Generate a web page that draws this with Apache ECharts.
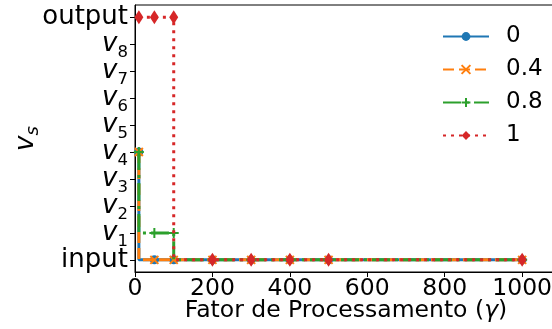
<!DOCTYPE html>
<html>
<head>
<meta charset="utf-8">
<script src="https://cdn.jsdelivr.net/npm/echarts@6/dist/echarts.min.js"></script>
<style>
  html, body { margin: 0; padding: 0; background: #fff; }
  #chart { width: 552px; height: 329px; }
</style>
</head>
<body>
<div id="chart"></div>
<script>
// Processing factor (gamma) on the x axis
const gammaValues = [10, 50, 100, 200, 300, 400, 500, 1000];
// Stage index reached for each series (0 = input, 1..8 = v1..v8, 9 = output)
const series0 = [4, 0, 0, 0, 0, 0, 0, 0];
const series04 = [4, 0, 0, 0, 0, 0, 0, 0];
const series08 = [4, 1, 1, 0, 0, 0, 0, 0];
const series1 = [9, 9, 9, 0, 0, 0, 0, 0];
const seriesNames = ['0', '0.4', '0.8', '1'];
const stageLabels = ['input', 'v1', 'v2', 'v3', 'v4', 'v5', 'v6', 'v7', 'v8', 'output'];
const stageTicks = [0, 1, 2, 3, 4, 5, 6, 7, 8, 9];
const xTicks = [0, 200, 400, 600, 800, 1000];

const FONT = 'DejaVu Sans';
const colors = ['#1f77b4', '#ff7f0e', '#2ca02c', '#d62728'];

const toPairs = ys => gammaValues.map((x, i) => [x, ys[i]]);

const crossPath = 'path://M0,0L10,10M10,0L0,10';
const plusPath = 'path://M5,0L5,10M0,5L10,5';

function stageLabel(value) {
  const idx = Math.round(value);
  const name = stageLabels[idx];
  if (idx === 0 || idx === 9) return name;
  return '{v|v}{s|' + name.slice(1) + '}';
}

// Stage labels are split over two coincident axes (even / odd stages)
// so that neighbouring tall labels never collide and get dropped.
const evenStages = stageTicks.filter(v => v % 2 === 0);
const oddStages = stageTicks.filter(v => v % 2 === 1);

const stageRich = {
  v: { fontFamily: FONT, fontStyle: 'italic', fontSize: 26, color: '#000', lineHeight: 34, verticalAlign: 'middle' },
  s: { fontFamily: FONT, fontSize: 16.5, color: '#000', lineHeight: 34, verticalAlign: 'bottom' }
};

function stageAxis(labelValues, withDecor) {
  return {
    type: 'value',
    position: 'left',
    offset: 0,
    min: -0.45, max: 9.45,
    axisLine: { show: withDecor, onZero: false, lineStyle: { color: '#000', width: 1 } },
    axisTick: { show: withDecor, inside: false, length: 5, lineStyle: { color: '#000', width: 1 },
      customValues: stageTicks },
    axisLabel: {
      fontFamily: FONT, fontSize: 26, color: '#000', margin: 7,
      showMinLabel: true, showMaxLabel: true, hideOverlap: false,
      customValues: labelValues,
      formatter: stageLabel,
      rich: stageRich
    },
    splitLine: { show: false }
  };
}

const chart = echarts.init(document.getElementById('chart'), null, { renderer: 'canvas' });

const yMain = stageAxis(evenStages, true);
yMain.name = '{v|v}{s|s}';
yMain.nameLocation = 'middle';
yMain.nameGap = 93;
yMain.nameRotate = 90;
yMain.nameMoveOverlap = false;
yMain.nameTextStyle = {
  color: '#000',
  rich: {
    v: { fontFamily: FONT, fontStyle: 'italic', fontSize: 26, color: '#000', lineHeight: 32, verticalAlign: 'middle' },
    s: { fontFamily: FONT, fontStyle: 'italic', fontSize: 18, color: '#000', lineHeight: 32, verticalAlign: 'bottom' }
  }
};
const yOdd = stageAxis(oddStages, false);

const lineW = 3;
const option = {
  animation: false,
  backgroundColor: '#fff',
  textStyle: { fontFamily: FONT },
  grid: {
    left: 135, top: 5, right: -5, bottom: 57,
    outerBoundsMode: 'none',
    containLabel: false,
    show: true, borderColor: '#000', borderWidth: 1, backgroundColor: 'transparent'
  },
  legend: {
    orient: 'vertical',
    left: 437, top: 20,
    itemWidth: 46, itemHeight: 11, itemGap: 10,
    textStyle: { fontFamily: FONT, fontSize: 23, color: '#000', padding: [0, 0, 0, 12] },
    data: seriesNames
  },
  xAxis: {
    type: 'value',
    min: 0, max: 1090, interval: 200,
    name: 'Fator de Processamento ({g|γ})',
    nameLocation: 'middle',
    nameGap: 27,
    nameMoveOverlap: false,
    nameTextStyle: {
      fontFamily: FONT, fontSize: 23.5, color: '#000',
      rich: { g: { fontFamily: FONT, fontStyle: 'italic', fontSize: 23.5, color: '#000' } }
    },
    axisLine: { show: true, onZero: false, lineStyle: { color: '#000', width: 1 } },
    axisTick: { show: true, inside: false, length: 5, lineStyle: { color: '#000', width: 1 },
      customValues: xTicks },
    axisLabel: {
      fontFamily: FONT, fontSize: 23.5, color: '#000', margin: 5, customValues: xTicks,
      hideOverlap: false,
      formatter: v => String(v)
    },
    splitLine: { show: false }
  },
  yAxis: [yMain, yOdd],
  series: [
    {
      name: seriesNames[0], type: 'line', step: 'start', data: toPairs(series0),
      symbol: 'circle', symbolSize: 9, showAllSymbol: true,
      lineStyle: { color: colors[0], width: lineW, type: 'solid' },
      itemStyle: { color: colors[0] }, z: 2
    },
    {
      name: seriesNames[1], type: 'line', step: 'start', data: toPairs(series04),
      symbol: crossPath, symbolSize: 8, showAllSymbol: true,
      lineStyle: { color: colors[1], width: lineW, type: [11, 5] },
      itemStyle: { color: colors[1], borderColor: colors[1], borderWidth: 2 }, z: 3
    },
    {
      name: seriesNames[2], type: 'line', step: 'start', data: toPairs(series08),
      symbol: plusPath, symbolSize: 10, showAllSymbol: true,
      lineStyle: { color: colors[2], width: lineW, type: [18, 5, 3, 5] },
      itemStyle: { color: colors[2], borderColor: colors[2], borderWidth: 2 }, z: 4
    },
    {
      name: seriesNames[3], type: 'line', step: 'start', data: toPairs(series1),
      symbol: 'diamond', symbolSize: [9, 14], showAllSymbol: true,
      lineStyle: { color: colors[3], width: lineW, type: [3, 5] },
      itemStyle: { color: colors[3] }, z: 5
    }
  ]
};

chart.setOption(option);
</script>
</body>
</html>
